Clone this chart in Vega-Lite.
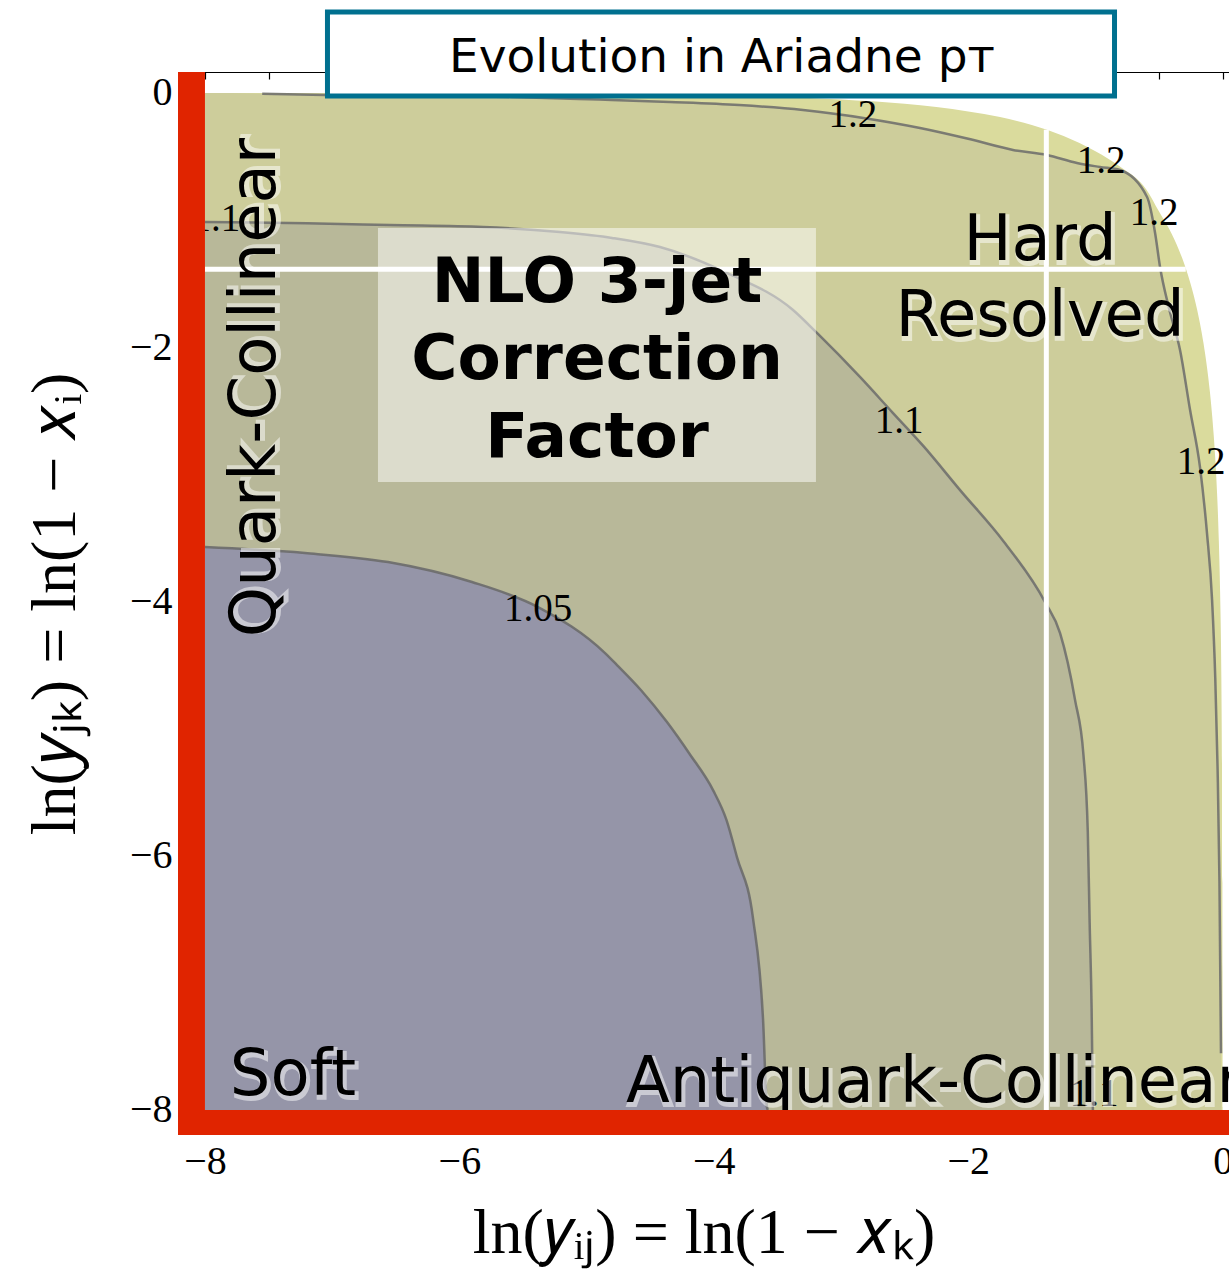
{
  "$schema": "https://vega.github.io/schema/vega-lite/v6.json",
  "width": 1051,
  "height": 1063,
  "autosize": {"type": "none"},
  "padding": {"left": 178, "top": 72, "right": 0, "bottom": 139},
  "background": "white",
  "config": {"view": {"stroke": null}},
  "resolve": {"axis": {"x": "independent", "y": "independent"}},
  "datasets": {
    "outer": [
      {"x": -8, "y": -0.0003}, {"x": -7, "y": -0.0009}, {"x": -6, "y": -0.0025}, {"x": -5, "y": -0.0068},
      {"x": -4.5, "y": -0.0112}, {"x": -4, "y": -0.0185}, {"x": -3.5, "y": -0.0307}, {"x": -3, "y": -0.0511},
      {"x": -2.5, "y": -0.0855}, {"x": -2, "y": -0.1454}, {"x": -1.75, "y": -0.1899}, {"x": -1.5, "y": -0.2513},
      {"x": -1.25, "y": -0.338}, {"x": -1, "y": -0.4587}, {"x": -0.8, "y": -0.5843}, {"x": -0.6, "y": -0.7587},
      {"x": -0.5, "y": -0.9328}, {"x": -0.4, "y": -1.1096}, {"x": -0.3, "y": -1.3502}, {"x": -0.25, "y": -1.5087},
      {"x": -0.2, "y": -1.7078}, {"x": -0.15, "y": -1.9712}, {"x": -0.1, "y": -2.3518}, {"x": -0.07, "y": -2.694},
      {"x": -0.05, "y": -3.02}, {"x": -0.03, "y": -3.522}, {"x": -0.02, "y": -3.922}, {"x": -0.01, "y": -4.61},
      {"x": -0.005, "y": -5.301}, {"x": -0.002, "y": -6.215}, {"x": -0.001, "y": -6.909}, {"x": -0.0003, "y": -8}
    ],
    "c12": [
      {"x": -8, "y": -0.001}, {"x": -7.6, "y": -0.004}, {"x": -7.55, "y": -0.006}, {"x": -7.057, "y": -0.016},
      {"x": -6.3, "y": -0.022}, {"x": -5.587, "y": -0.031}, {"x": -4.9, "y": -0.052}, {"x": -4.344, "y": -0.071},
      {"x": -3.8, "y": -0.095}, {"x": -3.299, "y": -0.134}, {"x": -2.8, "y": -0.2}, {"x": -2.379, "y": -0.275},
      {"x": -2.0, "y": -0.36}, {"x": -1.648, "y": -0.448}, {"x": -1.38, "y": -0.488}, {"x": -1.145, "y": -0.551},
      {"x": -0.964, "y": -0.582}, {"x": -0.807, "y": -0.606}, {"x": -0.594, "y": -0.818}, {"x": -0.531, "y": -1.101},
      {"x": -0.492, "y": -1.369}, {"x": -0.42, "y": -1.7}, {"x": -0.335, "y": -2.022}, {"x": -0.256, "y": -2.494},
      {"x": -0.178, "y": -2.943}, {"x": -0.123, "y": -3.462}, {"x": -0.083, "y": -3.989}, {"x": -0.058, "y": -4.6},
      {"x": -0.04, "y": -5.3}, {"x": -0.025, "y": -6.2}, {"x": -0.013, "y": -7.553}, {"x": -0.01, "y": -8}
    ],
    "c11": [
      {"x": -8, "y": -1.015}, {"x": -7.2, "y": -1.025}, {"x": -6.546, "y": -1.039}, {"x": -5.814, "y": -1.054},
      {"x": -5.209, "y": -1.094}, {"x": -4.8, "y": -1.14}, {"x": -4.423, "y": -1.212}, {"x": -3.896, "y": -1.416},
      {"x": -3.377, "y": -1.707}, {"x": -3.189, "y": -1.888}, {"x": -2.851, "y": -2.234}, {"x": -2.591, "y": -2.518},
      {"x": -2.35, "y": -2.78}, {"x": -2.064, "y": -3.124}, {"x": -1.72, "y": -3.53}, {"x": -1.396, "y": -4.005},
      {"x": -1.278, "y": -4.249}, {"x": -1.16, "y": -4.776}, {"x": -1.094, "y": -5.209}, {"x": -1.06, "y": -5.814},
      {"x": -1.045, "y": -6.546}, {"x": -1.03, "y": -7.2}, {"x": -1.02, "y": -8}
    ],
    "c105": [
      {"x": -8, "y": -3.572}, {"x": -7.214, "y": -3.619}, {"x": -6.561, "y": -3.69}, {"x": -5.901, "y": -3.847},
      {"x": -5.382, "y": -4.044}, {"x": -4.855, "y": -4.406}, {"x": -4.761, "y": -4.5}, {"x": -4.57, "y": -4.7},
      {"x": -4.368, "y": -4.949}, {"x": -4.19, "y": -5.2}, {"x": -4.006, "y": -5.484}, {"x": -3.9, "y": -5.72},
      {"x": -3.818, "y": -6.011}, {"x": -3.692, "y": -6.491}, {"x": -3.613, "y": -7.286},
      {"x": -3.582, "y": -7.978}, {"x": -3.574, "y": -8}
    ],
    "clabels": [
      {"t": "1.2", "x": -2.906, "y": -0.173}, {"t": "1.2", "x": -0.956, "y": -0.535},
      {"t": "1.2", "x": -0.539, "y": -0.944}, {"t": "1.2", "x": -0.17, "y": -2.903},
      {"t": "1.1", "x": -2.544, "y": -2.581}, {"t": "1.05", "x": -5.382, "y": -4.06},
      {"t": "1.1", "x": -1.011, "y": -7.876}, {"t": "1.1", "x": -7.914, "y": -0.991}
    ],
    "nlobox": [{"x": -6.64, "x2": -3.197, "y": -1.062, "y2": -3.061}],
    "wlines": [
      {"x": -8, "x2": -0.29, "y": -1.386, "y2": -1.386},
      {"x": -1.386, "x2": -1.386, "y": -8, "y2": -0.29}
    ],
    "nlo": [
      {"t": "NLO 3-jet", "x": -4.918, "y": -1.644},
      {"t": "Correction", "x": -4.918, "y": -2.25},
      {"t": "Factor", "x": -4.918, "y": -2.864}
    ],
    "big": [
      {"t": "Soft", "x": -7.308, "y": -7.883, "k": "c"},
      {"t": "Hard", "x": -1.436, "y": -1.314, "k": "c"},
      {"t": "Resolved", "x": -1.436, "y": -1.912, "k": "c"},
      {"t": "Antiquark-Collinear", "x": -4.69, "y": -7.939, "k": "l"},
      {"t": "Quark-Collinear", "x": -7.45, "y": -2.317, "k": "r"}
    ],
    "redbars": [
      {"x": -8.212, "x2": -8, "y": -8.197, "y2": 0.165},
      {"x": -8.212, "x2": 0.05, "y": -8.197, "y2": -8}
    ],
    "titlebox": [{"x": -7.037, "x2": -0.85, "y": 0.637, "y2": -0.024}],
    "title": [{"t": "Evolution in Ariadne pᴛ", "x": -3.936, "y": 0.165}]
  },
  "layer": [
    {
      "data": {"name": "outer"},
      "mark": {"type": "area", "color": "#dadb9d", "interpolate": "monotone"},
      "encoding": {
        "x": {"field": "x", "type": "quantitative", "scale": {"domain": [-8.212, 0.05], "nice": false, "zero": false},
          "axis": {"orient": "bottom", "values": [-8, -6, -4, -2, 0], "title": "ln(𝑦ᵢⱼ) = ln(1 − 𝑥ₖ)",
            "titleFont": "Liberation Serif", "titleFontSize": 64, "titleFontWeight": "normal", "titleColor": "black", "titlePadding": 20,
            "labelFont": "Liberation Serif", "labelFontSize": 40, "labelColor": "black", "labelPadding": 6, "labelFlush": false, "labelOverlap": false,
            "ticks": false, "tickSize": 0, "domain": false, "grid": false}},
        "y": {"field": "y", "type": "quantitative", "scale": {"domain": [-8.197, 0.165], "nice": false, "zero": false},
          "axis": {"orient": "left", "values": [-8, -6, -4, -2, 0], "title": "ln(𝑦ⱼₖ) = ln(1 − 𝑥ᵢ)",
            "titleFont": "Liberation Serif", "titleFontSize": 64, "titleFontWeight": "normal", "titleColor": "black", "titlePadding": 42,
            "labelFont": "Liberation Serif", "labelFontSize": 40, "labelColor": "black", "labelPadding": 6, "labelFlush": false, "labelOverlap": false,
            "ticks": false, "tickSize": 0, "domain": false, "grid": false}},
        "y2": {"datum": -8}
      }
    },
    {
      "data": {"name": "c12"},
      "mark": {"type": "area", "color": "#cdcd9b", "interpolate": "monotone"},
      "encoding": {
        "x": {"field": "x", "type": "quantitative", "scale": {"domain": [-8.212, 0.05], "nice": false, "zero": false}, "axis": null},
        "y": {"field": "y", "type": "quantitative", "scale": {"domain": [-8.197, 0.165], "nice": false, "zero": false}, "axis": null},
        "y2": {"datum": -8}
      }
    },
    {
      "data": {"name": "c11"},
      "mark": {"type": "area", "color": "#b8b899", "interpolate": "monotone"},
      "encoding": {
        "x": {"field": "x", "type": "quantitative", "scale": {"domain": [-8.212, 0.05], "nice": false, "zero": false}, "axis": null},
        "y": {"field": "y", "type": "quantitative", "scale": {"domain": [-8.197, 0.165], "nice": false, "zero": false}, "axis": null},
        "y2": {"datum": -8}
      }
    },
    {
      "data": {"name": "c105"},
      "mark": {"type": "area", "color": "#9595a8", "interpolate": "monotone"},
      "encoding": {
        "x": {"field": "x", "type": "quantitative", "scale": {"domain": [-8.212, 0.05], "nice": false, "zero": false}, "axis": null},
        "y": {"field": "y", "type": "quantitative", "scale": {"domain": [-8.197, 0.165], "nice": false, "zero": false}, "axis": null},
        "y2": {"datum": -8}
      }
    },
    {
      "data": {"name": "c12"},
      "transform": [{"filter": "datum.x > -7.58 && datum.y > -7.9"}],
      "mark": {"type": "line", "color": "#6b6b6b", "strokeWidth": 2.5, "opacity": 0.85, "interpolate": "monotone"},
      "encoding": {
        "x": {"field": "x", "type": "quantitative", "scale": {"domain": [-8.212, 0.05], "nice": false, "zero": false}, "axis": null},
        "y": {"field": "y", "type": "quantitative", "scale": {"domain": [-8.197, 0.165], "nice": false, "zero": false}, "axis": null}
      }
    },
    {
      "data": {"name": "c11"},
      "mark": {"type": "line", "color": "#6b6b6b", "strokeWidth": 2.5, "opacity": 0.85, "interpolate": "monotone"},
      "encoding": {
        "x": {"field": "x", "type": "quantitative", "scale": {"domain": [-8.212, 0.05], "nice": false, "zero": false}, "axis": null},
        "y": {"field": "y", "type": "quantitative", "scale": {"domain": [-8.197, 0.165], "nice": false, "zero": false}, "axis": null}
      }
    },
    {
      "data": {"name": "c105"},
      "mark": {"type": "line", "color": "#6b6b6b", "strokeWidth": 2.5, "opacity": 0.9, "interpolate": "monotone"},
      "encoding": {
        "x": {"field": "x", "type": "quantitative", "scale": {"domain": [-8.212, 0.05], "nice": false, "zero": false}, "axis": null},
        "y": {"field": "y", "type": "quantitative", "scale": {"domain": [-8.197, 0.165], "nice": false, "zero": false}, "axis": null}
      }
    },
    {
      "data": {"name": "clabels"},
      "mark": {"type": "text", "font": "Liberation Serif", "fontSize": 39, "align": "center", "baseline": "middle", "color": "black"},
      "encoding": {
        "x": {"field": "x", "type": "quantitative", "scale": {"domain": [-8.212, 0.05], "nice": false, "zero": false}, "axis": null},
        "y": {"field": "y", "type": "quantitative", "scale": {"domain": [-8.197, 0.165], "nice": false, "zero": false}, "axis": null},
        "text": {"field": "t"}
      }
    },
    {
      "data": {"name": "nlobox"},
      "mark": {"type": "rect", "color": "white", "opacity": 0.5},
      "encoding": {
        "x": {"field": "x", "type": "quantitative", "scale": {"domain": [-8.212, 0.05], "nice": false, "zero": false}, "axis": null},
        "x2": {"field": "x2"},
        "y": {"field": "y", "type": "quantitative", "scale": {"domain": [-8.197, 0.165], "nice": false, "zero": false}, "axis": null},
        "y2": {"field": "y2"}
      }
    },
    {
      "data": {"name": "wlines"},
      "mark": {"type": "rule", "color": "white", "strokeWidth": 5},
      "encoding": {
        "x": {"field": "x", "type": "quantitative", "scale": {"domain": [-8.212, 0.05], "nice": false, "zero": false}, "axis": null},
        "x2": {"field": "x2"},
        "y": {"field": "y", "type": "quantitative", "scale": {"domain": [-8.197, 0.165], "nice": false, "zero": false}, "axis": null},
        "y2": {"field": "y2"}
      }
    },
    {
      "data": {"name": "nlo"},
      "mark": {"type": "text", "font": "DejaVu Sans", "fontWeight": "bold", "fontSize": 63, "align": "center", "baseline": "alphabetic", "color": "black"},
      "encoding": {
        "x": {"field": "x", "type": "quantitative", "scale": {"domain": [-8.212, 0.05], "nice": false, "zero": false}, "axis": null},
        "y": {"field": "y", "type": "quantitative", "scale": {"domain": [-8.197, 0.165], "nice": false, "zero": false}, "axis": null},
        "text": {"field": "t"}
      }
    },
    {
      "data": {"name": "big"},
      "transform": [{"filter": "datum.k == 'c'"}],
      "mark": {"type": "text", "font": "DejaVu Sans", "fontSize": 64, "align": "center", "baseline": "alphabetic", "fill": "white", "stroke": "white", "strokeWidth": 4, "opacity": 0.5, "dx": 2, "dy": 3},
      "encoding": {
        "x": {"field": "x", "type": "quantitative", "scale": {"domain": [-8.212, 0.05], "nice": false, "zero": false}, "axis": null},
        "y": {"field": "y", "type": "quantitative", "scale": {"domain": [-8.197, 0.165], "nice": false, "zero": false}, "axis": null},
        "text": {"field": "t"}
      }
    },
    {
      "data": {"name": "big"},
      "transform": [{"filter": "datum.k == 'l'"}],
      "mark": {"type": "text", "font": "DejaVu Sans", "fontSize": 64, "align": "left", "baseline": "alphabetic", "fill": "white", "stroke": "white", "strokeWidth": 4, "opacity": 0.5, "dx": 2, "dy": 3},
      "encoding": {
        "x": {"field": "x", "type": "quantitative", "scale": {"domain": [-8.212, 0.05], "nice": false, "zero": false}, "axis": null},
        "y": {"field": "y", "type": "quantitative", "scale": {"domain": [-8.197, 0.165], "nice": false, "zero": false}, "axis": null},
        "text": {"field": "t"}
      }
    },
    {
      "data": {"name": "big"},
      "transform": [{"filter": "datum.k == 'r'"}],
      "mark": {"type": "text", "font": "DejaVu Sans", "fontSize": 64, "align": "center", "baseline": "alphabetic", "angle": 270, "fill": "white", "stroke": "white", "strokeWidth": 4, "opacity": 0.5, "dx": 2, "dy": 3},
      "encoding": {
        "x": {"field": "x", "type": "quantitative", "scale": {"domain": [-8.212, 0.05], "nice": false, "zero": false}, "axis": null},
        "y": {"field": "y", "type": "quantitative", "scale": {"domain": [-8.197, 0.165], "nice": false, "zero": false}, "axis": null},
        "text": {"field": "t"}
      }
    },
    {
      "data": {"name": "big"},
      "transform": [{"filter": "datum.k == 'c'"}],
      "mark": {"type": "text", "font": "DejaVu Sans", "fontSize": 64, "align": "center", "baseline": "alphabetic", "color": "black"},
      "encoding": {
        "x": {"field": "x", "type": "quantitative", "scale": {"domain": [-8.212, 0.05], "nice": false, "zero": false}, "axis": null},
        "y": {"field": "y", "type": "quantitative", "scale": {"domain": [-8.197, 0.165], "nice": false, "zero": false}, "axis": null},
        "text": {"field": "t"}
      }
    },
    {
      "data": {"name": "big"},
      "transform": [{"filter": "datum.k == 'l'"}],
      "mark": {"type": "text", "font": "DejaVu Sans", "fontSize": 64, "align": "left", "baseline": "alphabetic", "color": "black"},
      "encoding": {
        "x": {"field": "x", "type": "quantitative", "scale": {"domain": [-8.212, 0.05], "nice": false, "zero": false}, "axis": null},
        "y": {"field": "y", "type": "quantitative", "scale": {"domain": [-8.197, 0.165], "nice": false, "zero": false}, "axis": null},
        "text": {"field": "t"}
      }
    },
    {
      "data": {"name": "big"},
      "transform": [{"filter": "datum.k == 'r'"}],
      "mark": {"type": "text", "font": "DejaVu Sans", "fontSize": 64, "align": "center", "baseline": "alphabetic", "angle": 270, "color": "black"},
      "encoding": {
        "x": {"field": "x", "type": "quantitative", "scale": {"domain": [-8.212, 0.05], "nice": false, "zero": false}, "axis": null},
        "y": {"field": "y", "type": "quantitative", "scale": {"domain": [-8.197, 0.165], "nice": false, "zero": false}, "axis": null},
        "text": {"field": "t"}
      }
    },
    {
      "data": {"name": "redbars"},
      "mark": {"type": "rect", "color": "#e02400"},
      "encoding": {
        "x": {"field": "x", "type": "quantitative", "scale": {"domain": [-8.212, 0.05], "nice": false, "zero": false},
          "axis": {"orient": "top", "values": [-8, -7.5, -7, -6.5, -6, -5.5, -5, -4.5, -4, -3.5, -3, -2.5, -2, -1.5, -1, -0.5, 0],
            "labels": false, "title": null, "domain": true, "domainColor": "black", "domainWidth": 1.2,
            "ticks": true, "tickSize": -7, "tickColor": "black", "tickWidth": 1.2, "grid": false}},
        "x2": {"field": "x2"},
        "y": {"field": "y", "type": "quantitative", "scale": {"domain": [-8.197, 0.165], "nice": false, "zero": false}, "axis": null},
        "y2": {"field": "y2"}
      }
    },
    {
      "data": {"name": "titlebox"},
      "mark": {"type": "rect", "fill": "white", "stroke": "#00708f", "strokeWidth": 5},
      "encoding": {
        "x": {"field": "x", "type": "quantitative", "scale": {"domain": [-8.212, 0.05], "nice": false, "zero": false}, "axis": null},
        "x2": {"field": "x2"},
        "y": {"field": "y", "type": "quantitative", "scale": {"domain": [-8.197, 0.165], "nice": false, "zero": false}, "axis": null},
        "y2": {"field": "y2"}
      }
    },
    {
      "data": {"name": "title"},
      "mark": {"type": "text", "font": "DejaVu Sans", "fontSize": 47, "align": "center", "baseline": "alphabetic", "color": "black"},
      "encoding": {
        "x": {"field": "x", "type": "quantitative", "scale": {"domain": [-8.212, 0.05], "nice": false, "zero": false}, "axis": null},
        "y": {"field": "y", "type": "quantitative", "scale": {"domain": [-8.197, 0.165], "nice": false, "zero": false}, "axis": null},
        "text": {"field": "t"}
      }
    }
  ]
}
